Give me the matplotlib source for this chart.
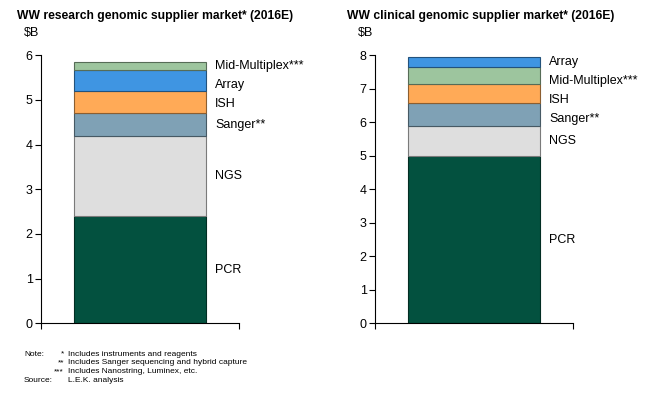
import matplotlib
matplotlib.use("Agg")
import matplotlib.pyplot as plt
import matplotlib.colors as mcolors
import numpy as np

plt.rcParams['font.family'] = ['Liberation Sans', 'DejaVu Sans']

# Data
research_segments = ["PCR", "NGS", "Sanger**", "ISH", "Array", "Mid-Multiplex***"]
research_values = [2.4, 1.8, 0.5, 0.5, 0.48, 0.16]
clinical_segments = ["PCR", "NGS", "Sanger**", "ISH", "Mid-Multiplex***", "Array"]
clinical_values = [5.0, 0.89, 0.7, 0.56, 0.49, 0.31]
research_yticks = [0, 1, 2, 3, 4, 5, 6]
clinical_yticks = [0, 1, 2, 3, 4, 5, 6, 7, 8]

colors = {
    "PCR": "#03513F",
    "NGS": "#DEDEDE",
    "Sanger**": "#7FA1B5",
    "ISH": "#FFAA57",
    "Array": "#3F95E2",
    "Mid-Multiplex***": "#9DC59E",
}

fig = plt.figure(figsize=(6.5, 3.95), dpi=100)

def darker(c, f=0.55):
    r, g, b = mcolors.to_rgb(c)
    return (r * f, g * f, b * f)

def draw(ax, segs, vals, yticks, gap_px):
    bottom = 0.0
    centers = []
    for s, v in zip(segs, vals):
        ax.bar(0, v, bottom=bottom, width=0.667, color=colors[s],
               edgecolor=darker(colors[s]), linewidth=0.8, zorder=2)
        centers.append(bottom + v / 2)
        bottom += v
    ymax = yticks[-1]
    ax.set_ylim(0, ymax)
    ax.set_xlim(-0.5, 0.5)
    # label placement: top-down with minimum gap
    h_px = ax.get_position().height * fig.get_figheight() * fig.dpi
    gap = gap_px / h_px * ymax
    ys = [None] * len(centers)
    prev = None
    for i in range(len(centers) - 1, -1, -1):
        y = centers[i] if prev is None else min(centers[i], prev - gap)
        ys[i] = y
        prev = y
    for s, y in zip(segs, ys):
        ax.text(0.3335 + 0.045, y, s, ha='left', va='center', fontsize=9, color='black')
    ax.set_yticks(yticks)
    ax.set_yticklabels([str(t) for t in yticks], fontsize=9)
    ax.set_xticks([-0.5, 0.5])
    ax.set_xticklabels([])
    ax.tick_params(axis='y', direction='out', length=4, width=0.8, pad=2)
    ax.tick_params(axis='x', direction='out', length=4, width=0.8)
    for sp in ['top', 'right']:
        ax.spines[sp].set_visible(False)
    for sp in ['left', 'bottom']:
        ax.spines[sp].set_linewidth(0.8)

ax1 = fig.add_axes([41 / 650, (395 - 323.3) / 395, 198 / 650, 268 / 395])
ax2 = fig.add_axes([375 / 650, (395 - 323.3) / 395, 198 / 650, 268 / 395])
draw(ax1, research_segments, research_values, research_yticks, 19)
draw(ax2, clinical_segments, clinical_values, clinical_yticks, 19)

fig.text(17 / 650, 1 - 15.7 / 395, "WW research genomic supplier market* (2016E)",
         fontsize=8.7, fontweight='bold', ha='left', va='center')
fig.text(347 / 650, 1 - 15.7 / 395, "WW clinical genomic supplier market* (2016E)",
         fontsize=8.7, fontweight='bold', ha='left', va='center')
fig.text(24 / 650, 1 - 32.7 / 395, "$B", fontsize=9, ha='left', va='center')
fig.text(358 / 650, 1 - 32.7 / 395, "$B", fontsize=9, ha='left', va='center')

fs = 6
fig.text(24 / 650, 1 - 354 / 395, "Note:", fontsize=fs, ha='left', va='center')
fig.text(64 / 650, 1 - 354 / 395, "*", fontsize=fs, ha='right', va='center')
fig.text(68 / 650, 1 - 354 / 395, "Includes instruments and reagents", fontsize=fs, ha='left', va='center')
fig.text(64 / 650, 1 - 362.7 / 395, "**", fontsize=fs, ha='right', va='center')
fig.text(68 / 650, 1 - 362.7 / 395, "Includes Sanger sequencing and hybrid capture", fontsize=fs, ha='left', va='center')
fig.text(64 / 650, 1 - 371.5 / 395, "***", fontsize=fs, ha='right', va='center')
fig.text(68 / 650, 1 - 371.5 / 395, "Includes Nanostring, Luminex, etc.", fontsize=fs, ha='left', va='center')
fig.text(24 / 650, 1 - 380.5 / 395, "Source:", fontsize=fs, ha='left', va='center')
fig.text(68 / 650, 1 - 380.5 / 395, "L.E.K. analysis", fontsize=fs, ha='left', va='center')

fig.savefig("out.png", dpi=100)
